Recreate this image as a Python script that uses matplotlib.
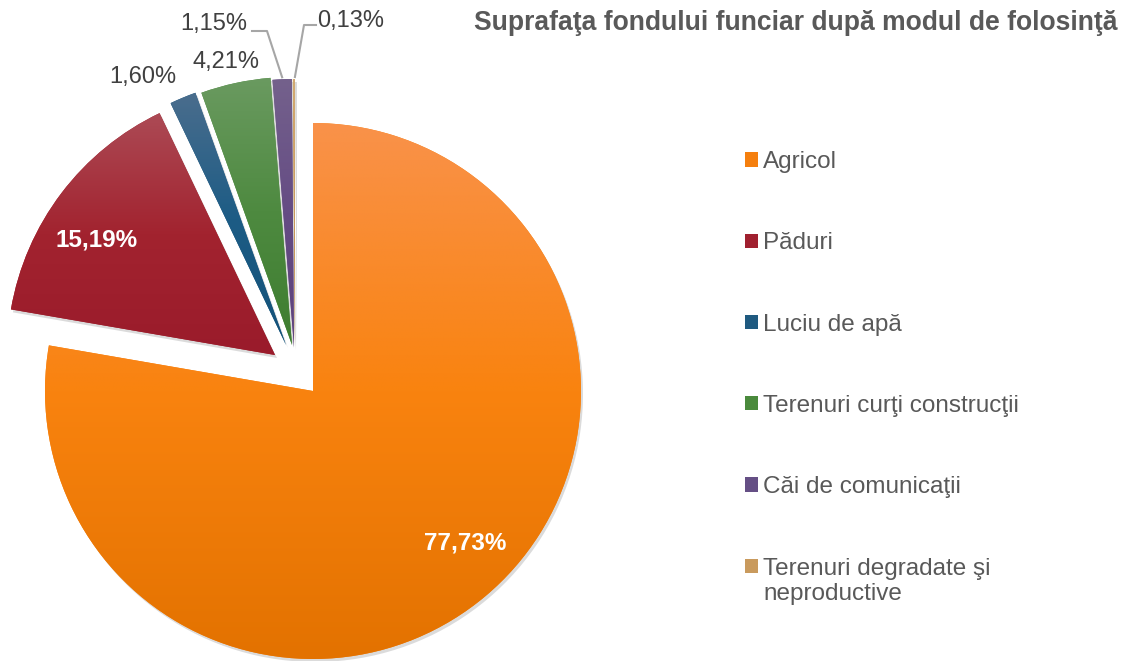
import numpy as np
import matplotlib
matplotlib.use("Agg")
import matplotlib.pyplot as plt
from matplotlib.patches import Wedge, Rectangle
from matplotlib.colors import to_rgb
from matplotlib.legend_handler import HandlerPatch

plt.rcParams['font.family'] = ['Liberation Sans', 'DejaVu Sans']

# ---- data ----
title = "Suprafaţa fondului funciar după modul de folosinţă"
categories = ["Agricol", "Păduri", "Luciu de apă", "Terenuri curţi construcţii",
              "Căi de comunicaţii", "Terenuri degradate şi\nneproductive"]
values = [77.73, 15.19, 1.60, 4.21, 1.15, 0.13]

# ---- styles ----
top_colors = ["#F9924A", "#AC4A55", "#4A6D8D", "#6A9A60", "#74618C", "#D2AA72"]
mid_colors = ["#F9830F", "#A2232F", "#1D5C85", "#4E8A40", "#654C84", "#C99A5D"]
bot_colors = ["#E37200", "#9A1B2B", "#145279", "#3E7D30", "#5D417B", "#C08A40"]
legend_colors = ["#F57F0E", "#A0202F", "#1F5A80", "#4A8A3C", "#654F85", "#C99A5D"]

W, H = 1122, 661
fig = plt.figure(figsize=(W / 100, H / 100), dpi=100)
ax = fig.add_axes([0, 0, 1, 1])

cx, cy, R = 313, 270, 268
wedges, _ = ax.pie(values, startangle=90, counterclock=False, center=(cx, cy),
                   radius=R, colors=mid_colors, frame=True,
                   wedgeprops=dict(linewidth=0))
ax.set_xlim(0, W)
ax.set_ylim(0, H)
ax.set_aspect('equal')
ax.axis('off')

# pixel offsets of the pulled-out slices
offsets = [(0, 0), (-38, 36), (-27, 46), (-21, 46), (-19, 44), (-18, 44)]
for w, (dx, dy) in zip(wedges, offsets):
    w.set_center((cx + dx, cy + dy))
    w.set_zorder(2)

# shadows and gradients
for w, ct, cm, cb in zip(wedges, top_colors, mid_colors, bot_colors):
    c = w.center
    sh = Wedge((c[0] + 2, c[1] - 3), w.r, w.theta1, w.theta2,
               facecolor="#808080", alpha=0.28, linewidth=0, zorder=1)
    ax.add_patch(sh)
    ext = w.get_path().get_extents()
    n = 256
    t = np.linspace(0, 1, n)[:, None]
    a, b, d = np.array(to_rgb(ct)), np.array(to_rgb(cm)), np.array(to_rgb(cb))
    grad = np.where(t < 0.5, a + (b - a) * (t / 0.5), b + (d - b) * ((t - 0.5) / 0.5))
    img = grad[:, None, :].repeat(2, axis=1)
    im = ax.imshow(img, extent=(ext.x0, ext.x1, ext.y0, ext.y1), origin='upper',
                   aspect='auto', interpolation='bilinear', zorder=3)
    im.set_clip_path(w)
ax.set_xlim(0, W)
ax.set_ylim(0, H)


def fmt(v):
    return f"{v:.2f}".replace(".", ",") + "%"


# inside labels (bold white)
inside_pos = {0: (465, H - 543), 1: (97, H - 240)}
for i, (x, y) in inside_pos.items():
    ax.text(x, y, fmt(values[i]), color="white", fontsize=17.5, fontweight='bold',
            ha='center', va='center', zorder=5)

# outside labels
outside_pos = {2: (143, H - 77), 3: (226, H - 62), 4: (214, H - 24), 5: (351, H - 21)}
for i, (x, y) in outside_pos.items():
    ax.text(x, y, fmt(values[i]), color="#404040", fontsize=17,
            ha='center', va='center', zorder=5)

# leader lines
def edge_point(w):
    th = np.deg2rad((w.theta1 + w.theta2) / 2)
    return w.center[0] + w.r * np.cos(th), w.center[1] + w.r * np.sin(th)

ex, ey = edge_point(wedges[4])
ax.plot([252, 267, ex], [H - 31, H - 31, ey + 2], color="#A6A6A6", lw=1.5, zorder=4)
ex, ey = edge_point(wedges[5])
ax.plot([ex + 1, 304, 316], [ey + 2, H - 25, H - 25], color="#A6A6A6", lw=1.5, zorder=4)

# title
fig.text(1117 / W, 1 - 23 / H, title, ha='right', va='center', fontsize=19.1,
         fontweight='bold', color="#595959")

# legend
handles = [Rectangle((0, 0), 1, 1, facecolor=c, edgecolor='none') for c in legend_colors]
handles[-1].set_gid("multi")


def make_patch(legend, orig_handle, xdescent, ydescent, width, height, fontsize):
    shift = 0.62 * fontsize if orig_handle.get_gid() == "multi" else 0
    return Rectangle((-xdescent, -ydescent + shift), width, height,
                     facecolor=orig_handle.get_facecolor(), edgecolor='none')


leg = fig.legend(handles, categories, loc='upper left',
                 bbox_to_anchor=(745 / W, 1 - 151 / H), frameon=False,
                 fontsize=17.5, labelcolor="#595959", handlelength=0.53,
                 handleheight=0.53, handletextpad=0.22, labelspacing=2.44,
                 borderaxespad=0, borderpad=0,
                 handler_map={Rectangle: HandlerPatch(patch_func=make_patch)})

fig.savefig("out.png", dpi=100, facecolor="white")
